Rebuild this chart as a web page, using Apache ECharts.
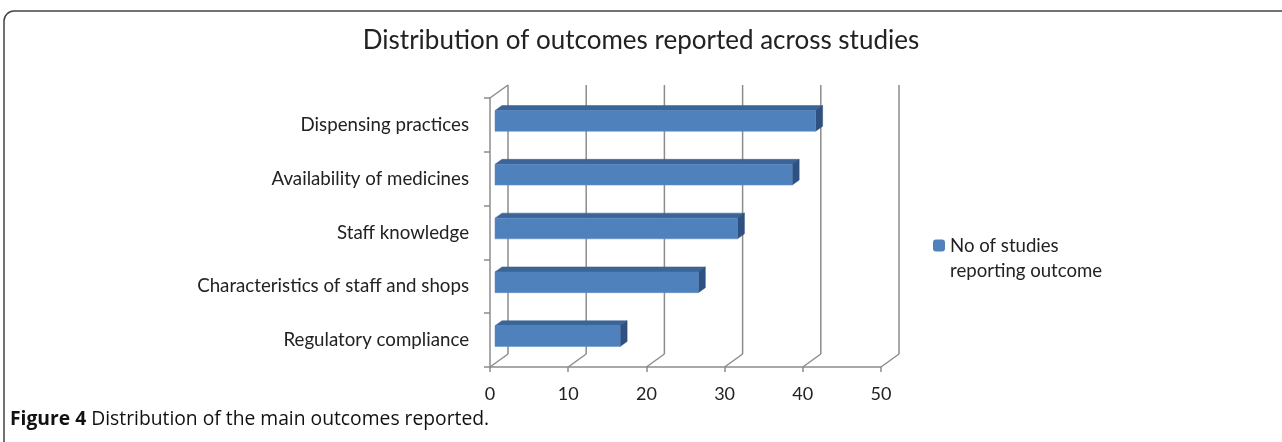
<!DOCTYPE html>
<html>
<head>
<meta charset="utf-8">
<script src="https://cdn.jsdelivr.net/npm/echarts@6/dist/echarts.min.js"></script>
<style>html,body{margin:0;padding:0;background:#fff}#c{width:1282px;height:442px}</style>
</head>
<body>
<div id="c"></div>
<script>
const categories = ['Dispensing practices','Availability of medicines','Staff knowledge','Characteristics of staff and shops','Regulatory compliance'];
const studies = [41, 38, 31, 26, 16];
const xTicks = [0, 10, 20, 30, 40, 50];
const seriesName = 'No of studies reporting outcome';

const chart = echarts.init(document.getElementById('c'));
const DX = 18, DY = -13;      // wall depth
const BX0 = 5, BDX = 7, BDY = -5; // bar depth placement
const wallColor = '#8c8c8c';

chart.setOption({
  animation: false,
  title: {
    text: 'Distribution of outcomes reported across studies',
    left: 'center', top: 23,
    textStyle: { fontFamily: 'Lato', fontSize: 26, fontWeight: 'normal', color: '#222' }
  },
  legend: {
    data: [seriesName],
    left: 928, top: 203, orient: 'vertical',
    itemWidth: 12, itemHeight: 12, itemGap: 6,
    formatter: () => '\nNo of studies\nreporting outcome',
    textStyle: { fontFamily: 'Lato', fontSize: 18.6, color: '#222', lineHeight: 25 }
  },
  grid: { left: 490, top: 98, width: 391, height: 269, containLabel: false },
  xAxis: {
    type: 'value', min: 0, max: 50, interval: 10,
    axisLine: { show: true, lineStyle: { color: wallColor, width: 1.5 } },
    axisTick: { show: true, length: 5, lineStyle: { color: wallColor, width: 1.5 } },
    splitLine: { show: false },
    axisLabel: { margin: 18, fontFamily: 'Lato', fontSize: 18, color: '#222' }
  },
  yAxis: {
    type: 'category', data: categories, inverse: true,
    axisLine: { show: true, lineStyle: { color: wallColor, width: 1.5 } },
    axisTick: { show: true, length: 6, lineStyle: { color: wallColor, width: 1.5 } },
    splitLine: { show: false },
    axisLabel: { margin: 21, fontFamily: 'Lato', fontSize: 18.7, color: '#222' }
  },
  graphic: [
    { type: 'rect', shape: { x: 4, y: 11, width: 1300, height: 460, r: 10 },
      style: { fill: 'none', stroke: '#444', lineWidth: 1.5 }, silent: true, z: -10 },
    { type: 'text', left: 10, top: 410,
      style: { text: '{b|Figure 4} Distribution of the main outcomes reported.',
        rich: { b: { fontWeight: 'bold', fontFamily: 'Open Sans', fontSize: 19.3, fill: '#111' } },
        fontFamily: 'Open Sans', fontSize: 19.3, fill: '#111' } }
  ],
  series: [
    {
      type: 'custom', name: 'wall', z: 1, silent: true,
      data: xTicks.map(v => [v, 0]),
      encode: { x: 0, y: 1 },
      renderItem: function (params, api) {
        const cs = params.coordSys;
        const p = api.coord([api.value(0), 0]);
        const x = p[0], yb = cs.y + cs.height, yt = cs.y;
        const ls = { stroke: wallColor, lineWidth: 1.5, fill: 'none' };
        const children = [
          { type: 'line', shape: { x1: x, y1: yb, x2: x + DX, y2: yb + DY }, style: ls },
          { type: 'line', shape: { x1: x + DX, y1: yb + DY, x2: x + DX, y2: yt + DY }, style: ls }
        ];
        if (params.dataIndex === 0) {
          children.push({ type: 'line', shape: { x1: x, y1: yt, x2: x + DX, y2: yt + DY }, style: ls });
        }
        return { type: 'group', children };
      }
    },
    {
      type: 'custom', name: seriesName, z: 3,
      itemStyle: { color: '#4f81bd' },
      data: studies.map((v, i) => [v, i]),
      encode: { x: 0, y: 1 },
      renderItem: function (params, api) {
        const idx = api.value(1);
        const p0 = api.coord([0, idx]);
        const p1 = api.coord([api.value(0), idx]);
        const band = api.size([0, 1])[1];
        const h = band * 0.385;
        const cy = p0[1] - 4;
        const xl = p0[0] + BX0, xr = p1[0] + BX0;
        const yt = cy - h / 2, yb = cy + h / 2;
        return {
          type: 'group',
          children: [
            { type: 'polygon', shape: { points: [[xl, yt], [xr, yt], [xr + BDX, yt + BDY], [xl + BDX, yt + BDY]] },
              style: { fill: '#3c6597', stroke: '#375e8e', lineWidth: 0.5 } },
            { type: 'polygon', shape: { points: [[xr, yt], [xr + BDX, yt + BDY], [xr + BDX, yb + BDY], [xr, yb]] },
              style: { fill: '#2e5181', stroke: '#2c4d7b', lineWidth: 0.5 } },
            { type: 'rect', shape: { x: xl, y: yt, width: xr - xl, height: h },
              style: { fill: '#4f81bd', stroke: '#5a8ac4', lineWidth: 0.5 } }
          ]
        };
      }
    }
  ]
});
</script>
</body>
</html>
